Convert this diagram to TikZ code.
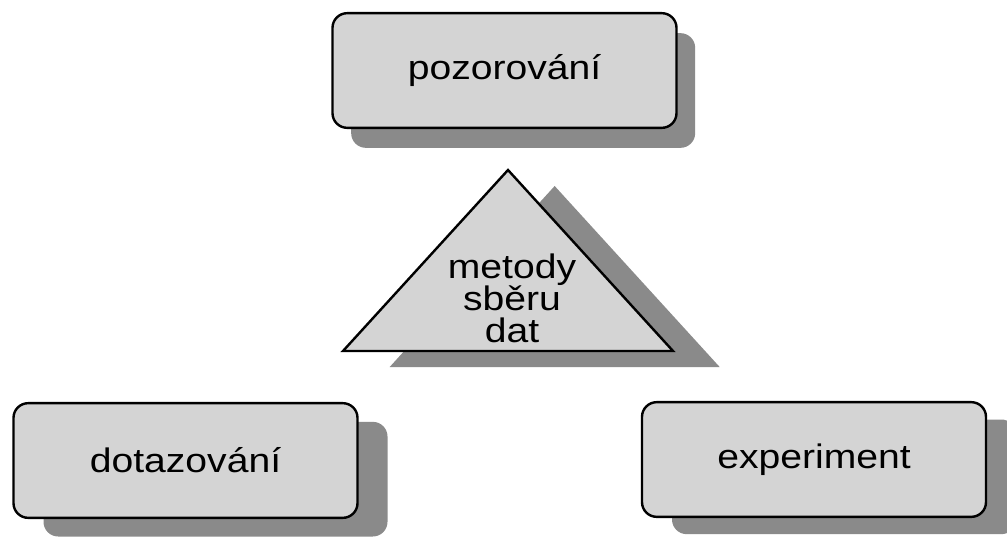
\documentclass[tikz,border=0pt]{standalone}
\usepackage{fontspec}
\setmainfont{Liberation Sans}
\newfontfamily\boxfont[FakeStretch=1.15]{Liberation Sans}
\usepackage{tikz}
\usetikzlibrary{shadows}

\definecolor{boxgray}{RGB}{212,212,212}
\definecolor{shadegray}{RGB}{138,138,138}

\begin{document}
\begin{tikzpicture}[x=0.75pt,y=-0.75pt,line width=1.8pt,
  method node/.style={rectangle,rounded corners=11pt,draw=black,fill=boxgray,
    minimum width=258pt,minimum height=86pt,inner sep=0pt,
    font=\boxfont\fontsize{25.5}{26}\selectfont},
  core shape/.style={draw=black,fill=boxgray,line join=miter,
    general shadow={fill=shadegray,shadow xshift=35pt,shadow yshift=-12pt}},
  core node/.style={align=center,inner sep=0pt,
    font=\boxfont\fontsize{25.5}{24}\selectfont}]
  \useasboundingbox (0,0) rectangle (1007,536);

  \node[method node,general shadow={fill=shadegray,shadow xshift=14pt,shadow yshift=-15pt}]
    (poz) at (504.5,70.5) {pozorování};
  \node[method node,general shadow={fill=shadegray,shadow xshift=22.5pt,shadow yshift=-14pt}]
    (dot) at (185.5,460.5) {dotazování};
  \node[method node,general shadow={fill=shadegray,shadow xshift=22.5pt,shadow yshift=-13pt}]
    (exp) at (814,459.5) {experiment};

  % the triangle in the middle
  \draw[core shape] (508,170) -- (673,351) -- (343,351) -- cycle;
  \node[core node] (met) at (512,298) {metody\\sběru\\dat};
\end{tikzpicture}
\end{document}
